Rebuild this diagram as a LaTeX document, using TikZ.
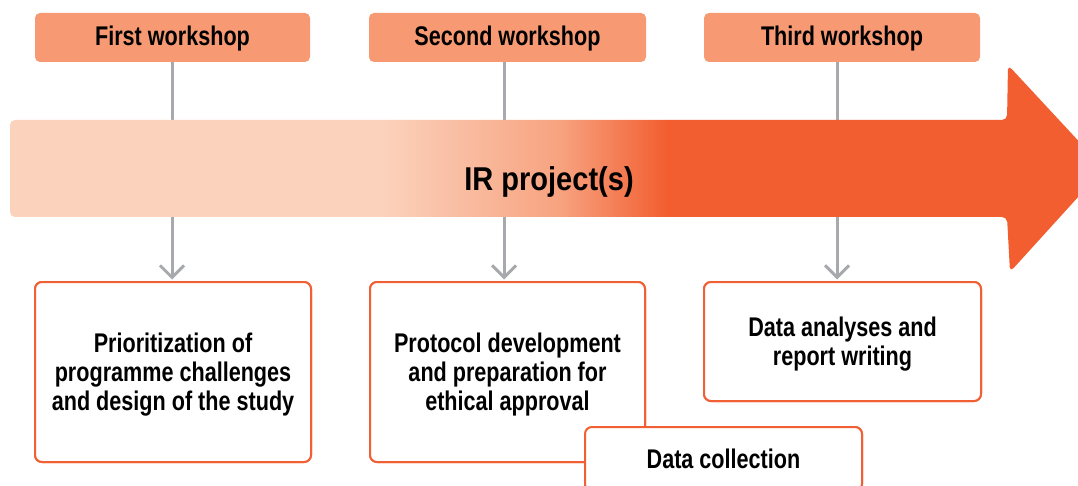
\documentclass[tikz,border=0pt]{standalone}
\usepackage{fontspec}
\setmainfont{Liberation Sans}[FakeStretch=0.80]
\newfontfamily\irfont{Liberation Sans}[FakeStretch=0.88]
\usetikzlibrary{arrows.meta}
\definecolor{hdrfill}{RGB}{247,154,115}
\definecolor{bordcol}{RGB}{241,96,52}
\definecolor{irorange}{RGB}{242,94,48}
\definecolor{irlight}{RGB}{251,210,188}
\definecolor{irmid}{RGB}{247,163,128}
\definecolor{conngray}{RGB}{167,169,172}
\pgfdeclarehorizontalshading{irshade}{100bp}{color(0bp)=(irlight); color(42bp)=(irlight); color(50.1bp)=(irmid); color(55bp)=(irorange); color(100bp)=(irorange)}
\tikzset{
  hdrbox/.style={fill=hdrfill, rounded corners=5pt, minimum height=49pt, inner sep=0pt,
    text depth=3pt, font=\fontsize{27}{29}\selectfont\bfseries},
  stagebox/.style={draw=bordcol, line width=2pt, fill=white, rounded corners=7pt, inner sep=0pt,
    text depth=0pt, align=center, font=\fontsize{27}{29}\selectfont\bfseries},
  conn/.style={draw=conngray, line width=3pt, -{Straight Barb[length=12pt,width=24pt,line width=3pt]}, shorten >=1.5pt},
  irlabel/.style={font=\fontsize{33}{36}\selectfont\irfont\bfseries, inner sep=0pt}
}
\begin{document}
\begin{tikzpicture}[x=1pt,y=-1pt]
\clip (0,0) rectangle (1078,486);
\fill[white] (0,0) rectangle (1078,486);
% headers
\node[hdrbox, minimum width=275pt] (h1) at (172.5,37.5) {First workshop};
\node[hdrbox, minimum width=277pt] (h2) at (507.5,37.5) {Second workshop};
\node[hdrbox, minimum width=276pt] (h3) at (842,37.5) {Third workshop};
% stage boxes (positions)
\node[stagebox, minimum width=276pt, minimum height=180pt] (b1) at (173,372) {Prioritization of\\programme challenges\\and design of the study};
\node[stagebox, minimum width=275pt, minimum height=180pt] (b2) at (507.5,372) {Protocol development\\and preparation for\\ethical approval};
\node[stagebox, minimum width=277pt, minimum height=119pt] (b3) at (842.5,341.5) {Data analyses and\\report writing};
\node[stagebox, minimum width=277pt, minimum height=64pt, anchor=north] (b4) at (723.5,426) {Data collection};
% connector x positions
\coordinate (c1) at (172,0);
\coordinate (c2) at (504,0);
\coordinate (c3) at (837,0);
\draw[conn] (h1.south -| c1) -- (b1.north -| c1);
\draw[conn] (h2.south -| c2) -- (b2.north -| c2);
\draw[conn] (h3.south -| c3) -- (b3.north -| c3);
% big arrow
\shade[shading=irshade, rounded corners=5pt]
  (10,120) -- (1007,120) -- (1008,65) -- (1104,168.5) -- (1010,272) -- (1007,217) -- (10,217) -- cycle;
\node[irlabel, anchor=base] (ir) at (549,191) {IR project(s)};
% redraw boxes on top
\node[stagebox, minimum width=276pt, minimum height=180pt] at (b1) {Prioritization of\\programme challenges\\and design of the study};
\node[stagebox, minimum width=275pt, minimum height=180pt] at (b2) {Protocol development\\and preparation for\\ethical approval};
\node[stagebox, minimum width=277pt, minimum height=119pt] at (b3) {Data analyses and\\report writing};
\node[stagebox, minimum width=277pt, minimum height=64pt] at (b4) {Data collection};
\end{tikzpicture}
\end{document}
